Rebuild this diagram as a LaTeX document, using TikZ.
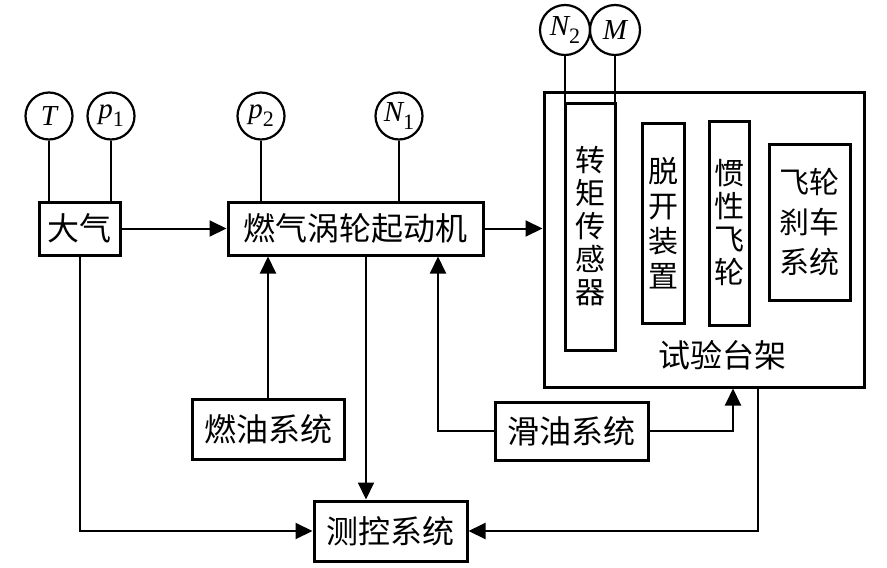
\documentclass[tikz,border=0pt]{standalone}
\usepackage{fontspec}
\newfontfamily\cjk{Noto Sans CJK SC}
\newfontfamily\tnr{Liberation Serif}
\usetikzlibrary{arrows.meta}
\newcommand{\mv}[2]{{\itshape #1}\raisebox{-0.28em}{\upshape\fontsize{22}{22}\selectfont #2}}
\begin{document}
\begin{tikzpicture}[x=1pt,y=-1pt,
  box/.style={draw, line width=3pt, inner sep=0pt, font=\cjk\fontsize{32}{36}\selectfont},
  vbox/.style={draw, line width=3pt, inner sep=0pt, align=center},
  meas/.style={draw, circle, line width=2.2pt, minimum size=47pt, inner sep=0pt, font=\tnr\fontsize{29}{30}\selectfont},
  conn/.style={line width=2pt},
  arr/.style={conn, -{Triangle[length=17pt,width=16pt]}}]
\useasboundingbox (0,0) rectangle (887,568);
% boxes
\node[box, minimum width=81pt, minimum height=53pt] (daqi) at (79.5,228.5) {大气};
\node[box, minimum width=255pt, minimum height=53pt] (engine) at (355.5,228.5) {燃气涡轮起动机};
\node[draw, line width=3pt, minimum width=320pt, minimum height=295pt, inner sep=0pt] (bench) at (704,239.5) {};
\node[vbox, minimum width=50pt, minimum height=247pt, font=\cjk\fontsize{30}{33}\selectfont] (sensor) at (590,226.5) {转\\矩\\传\\感\\器};
\node[vbox, minimum width=42pt, minimum height=200pt, font=\cjk\fontsize{30}{35}\selectfont] (tuokai) at (663,223) {脱\\开\\装\\置};
\node[vbox, minimum width=40pt, minimum height=204pt, font=\cjk\fontsize{30}{33}\selectfont] (guanxing) at (729,223) {惯\\性\\飞\\轮};
\node[vbox, minimum width=81pt, minimum height=156pt, font=\cjk\fontsize{30}{40}\selectfont] (brake) at (809.5,222) {飞轮\\刹车\\系统};
\node[font=\cjk\fontsize{32}{36}\selectfont, inner sep=0pt] (shitai) at (722,355) {试验台架};
\node[box, minimum width=152pt, minimum height=60pt] (ranyou) at (268,429) {燃油系统};
\node[box, minimum width=153pt, minimum height=58pt] (huayou) at (571.5,431) {滑油系统};
\node[box, minimum width=153pt, minimum height=60pt] (cekong) at (390.5,531) {测控系统};
% measurement circles
\node[meas] (T) at (49,116) {\itshape T};
\node[meas] (p1) at (111,116) {\mv{p}{1}};
\node[meas] (p2) at (261,116) {\mv{p}{2}};
\node[meas] (N1) at (399,116) {\mv{N}{1}};
\node[meas, minimum size=50pt] (N2) at (565,30) {\mv{N}{2}};
\node[meas, minimum size=50pt] (M) at (615,30) {\itshape M};
% sensor lines
\draw[line width=2.2pt] (T) -- (T |- daqi.north);
\draw[line width=2.2pt] (p1) -- (p1 |- daqi.north);
\draw[line width=2.2pt] (p2) -- (p2 |- engine.north);
\draw[line width=2.2pt] (N1) -- (N1 |- engine.north);
\draw[line width=2.2pt] (N2) -- (N2 |- sensor.north);
\draw[line width=2.2pt] (M) -- (M |- sensor.north);
% helper coordinates
\coordinate (xdown) at (366,0);
\coordinate (xlub) at (438,0);
\coordinate (xlubr) at (733,0);
\coordinate (xbench) at (758,531);
% connectors
\draw[arr] (daqi.east) -- (engine.west);
\draw[arr] (engine.east) -- (engine.east -| bench.west);
\draw[arr] (ranyou.north) -- (ranyou.north |- engine.south);
\draw[arr] (engine.south -| xdown) -- (cekong.north -| xdown);
\draw[arr] (huayou.west) -| (engine.south -| xlub);
\draw[arr] (huayou.east) -| (bench.south -| xlubr);
\draw[arr] (bench.south -| xbench) -- (xbench) -- (cekong.east);
\draw[arr] (daqi.south) |- (cekong.west);
\end{tikzpicture}
\end{document}
